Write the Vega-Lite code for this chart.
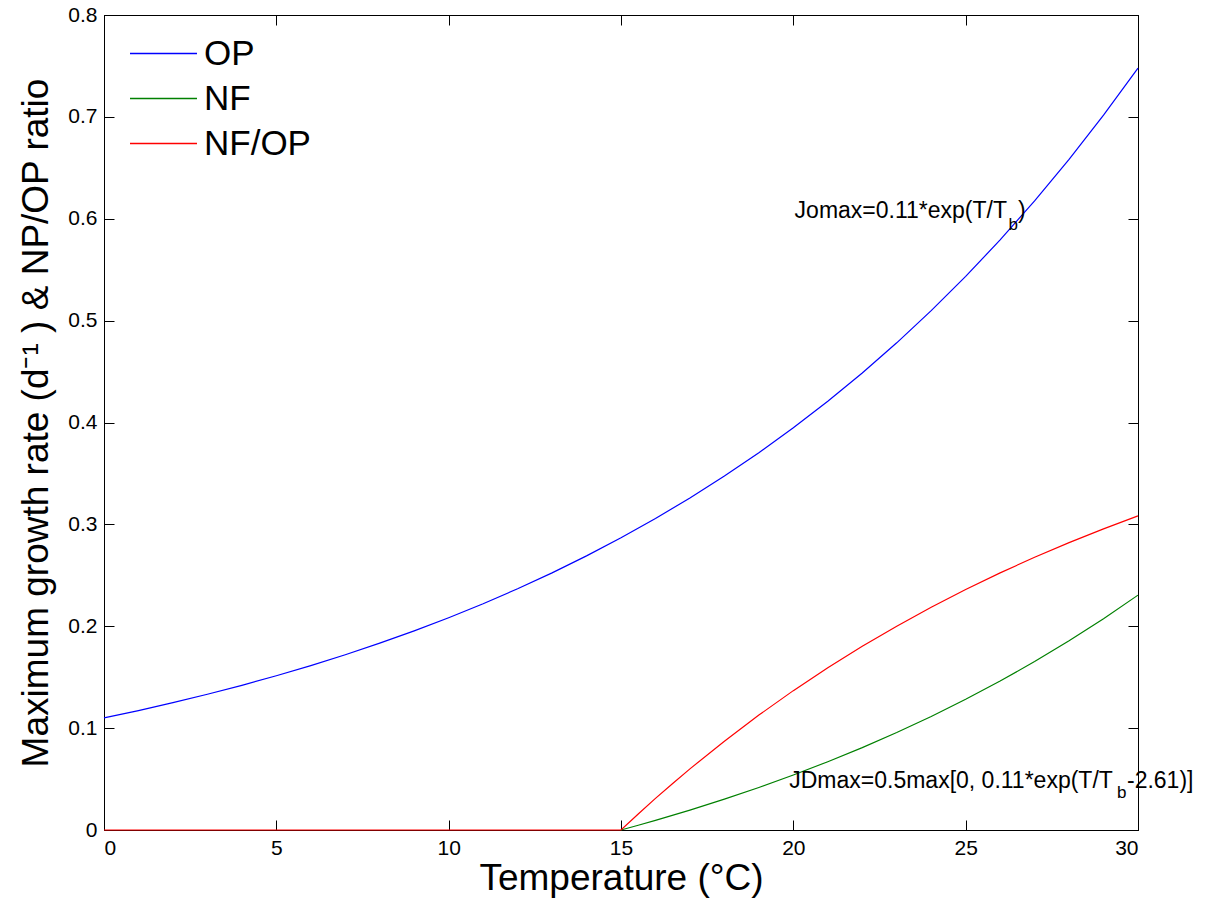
{
  "$schema": "https://vega.github.io/schema/vega-lite/v6.json",
  "autosize": "none",
  "width": 1034,
  "height": 815,
  "padding": {"left": 104, "top": 15, "right": 72, "bottom": 74},
  "background": "white",
  "config": {
    "view": {"stroke": "black", "strokeWidth": 1},
    "font": "Liberation Sans",
    "axis": {
      "grid": false,
      "domainColor": "black",
      "tickColor": "black",
      "labelColor": "black",
      "titleColor": "black",
      "labelFont": "Liberation Sans",
      "titleFont": "Liberation Sans",
      "labelFontSize": 21,
      "titleFontSize": 37,
      "titleFontWeight": "normal",
      "tickSize": -10,
      "tickWidth": 1
    }
  },
  "datasets": {
    "curves": [
      {"T": 0, "series": "OP", "value": 0.11},
      {"T": 1, "series": "OP", "value": 0.11726},
      {"T": 2, "series": "OP", "value": 0.125},
      {"T": 3, "series": "OP", "value": 0.13324},
      {"T": 4, "series": "OP", "value": 0.14203},
      {"T": 5, "series": "OP", "value": 0.15141},
      {"T": 6, "series": "OP", "value": 0.1614},
      {"T": 7, "series": "OP", "value": 0.17204},
      {"T": 8, "series": "OP", "value": 0.1834},
      {"T": 9, "series": "OP", "value": 0.1955},
      {"T": 10, "series": "OP", "value": 0.20839},
      {"T": 11, "series": "OP", "value": 0.22214},
      {"T": 12, "series": "OP", "value": 0.2368},
      {"T": 13, "series": "OP", "value": 0.25242},
      {"T": 14, "series": "OP", "value": 0.26908},
      {"T": 15, "series": "OP", "value": 0.28683},
      {"T": 16, "series": "OP", "value": 0.30576},
      {"T": 17, "series": "OP", "value": 0.32593},
      {"T": 18, "series": "OP", "value": 0.34744},
      {"T": 19, "series": "OP", "value": 0.37036},
      {"T": 20, "series": "OP", "value": 0.3948},
      {"T": 21, "series": "OP", "value": 0.42085},
      {"T": 22, "series": "OP", "value": 0.44861},
      {"T": 23, "series": "OP", "value": 0.47821},
      {"T": 24, "series": "OP", "value": 0.50977},
      {"T": 25, "series": "OP", "value": 0.5434},
      {"T": 26, "series": "OP", "value": 0.57925},
      {"T": 27, "series": "OP", "value": 0.61747},
      {"T": 28, "series": "OP", "value": 0.65821},
      {"T": 29, "series": "OP", "value": 0.70164},
      {"T": 30, "series": "OP", "value": 0.74793},
      {"T": 15, "series": "NF", "value": 0},
      {"T": 15.5, "series": "NF", "value": 0.00466},
      {"T": 16, "series": "NF", "value": 0.00947},
      {"T": 17, "series": "NF", "value": 0.01955},
      {"T": 18, "series": "NF", "value": 0.03031},
      {"T": 19, "series": "NF", "value": 0.04177},
      {"T": 20, "series": "NF", "value": 0.05399},
      {"T": 21, "series": "NF", "value": 0.06701},
      {"T": 22, "series": "NF", "value": 0.08089},
      {"T": 23, "series": "NF", "value": 0.09569},
      {"T": 24, "series": "NF", "value": 0.11147},
      {"T": 25, "series": "NF", "value": 0.12829},
      {"T": 26, "series": "NF", "value": 0.14621},
      {"T": 27, "series": "NF", "value": 0.16532},
      {"T": 28, "series": "NF", "value": 0.18569},
      {"T": 29, "series": "NF", "value": 0.20741},
      {"T": 30, "series": "NF", "value": 0.23055},
      {"T": 0, "series": "NF/OP", "value": 0},
      {"T": 15, "series": "NF/OP", "value": 0},
      {"T": 15.5, "series": "NF/OP", "value": 0.0157},
      {"T": 16, "series": "NF/OP", "value": 0.031},
      {"T": 16.5, "series": "NF/OP", "value": 0.0457},
      {"T": 17, "series": "NF/OP", "value": 0.06},
      {"T": 18, "series": "NF/OP", "value": 0.0872},
      {"T": 19, "series": "NF/OP", "value": 0.1128},
      {"T": 20, "series": "NF/OP", "value": 0.1368},
      {"T": 21, "series": "NF/OP", "value": 0.1592},
      {"T": 22, "series": "NF/OP", "value": 0.1803},
      {"T": 23, "series": "NF/OP", "value": 0.2001},
      {"T": 24, "series": "NF/OP", "value": 0.2187},
      {"T": 25, "series": "NF/OP", "value": 0.2361},
      {"T": 26, "series": "NF/OP", "value": 0.2524},
      {"T": 27, "series": "NF/OP", "value": 0.2677},
      {"T": 28, "series": "NF/OP", "value": 0.2821},
      {"T": 29, "series": "NF/OP", "value": 0.2956},
      {"T": 30, "series": "NF/OP", "value": 0.3083}
    ],
    "mainText": [
      {"T": 26.2, "value": 0.6007, "label": "Jomax=0.11*exp(T/T"},
      {"T": 29.27, "value": 0.0412, "label": "JDmax=0.5max[0, 0.11*exp(T/T"}
    ],
    "subText": [
      {"T": 26.24, "value": 0.5889, "label": "b"},
      {"T": 29.39, "value": 0.0314, "label": "b"}
    ],
    "tailText": [
      {"T": 26.52, "value": 0.6007, "label": ")"},
      {"T": 29.68, "value": 0.0412, "label": "-2.61)]"}
    ]
  },
  "layer": [
    {
      "data": {"name": "curves"},
      "mark": {"type": "line", "strokeWidth": 1.2, "interpolate": "linear"},
      "encoding": {
        "x": {"field": "T", "type": "quantitative",
              "scale": {"domain": [0, 30], "nice": false, "zero": false},
              "axis": {"values": [0, 5, 10, 15, 20, 25, 30], "title": "Temperature (°C)", "labelPadding": 17, "titlePadding": 2}},
        "y": {"field": "value", "type": "quantitative",
              "scale": {"domain": [0, 0.8], "nice": false},
              "axis": {"values": [0, 0.1, 0.2, 0.3, 0.4, 0.5, 0.6, 0.7, 0.8], "format": ".1~f", "title": "Maximum growth rate (d⁻¹ ) & NP/OP ratio", "labelPadding": 17, "titlePadding": 12}},
        "color": {"field": "series", "type": "nominal",
                  "scale": {"domain": ["OP", "NF", "NF/OP"], "range": ["#0000ff", "#008000", "#ff0000"]},
                  "legend": {"title": null, "orient": "none", "legendX": 42, "legendY": 21,
                             "symbolType": "M-2,0H2", "symbolSize": 1122, "symbolStrokeWidth": 1.5,
                             "labelFontSize": 35, "labelFont": "Liberation Sans", "labelColor": "black",
                             "rowPadding": 9, "labelOffset": 23}}
      }
    },
    {
      "data": {"name": "curves"},
      "mark": {"type": "line", "opacity": 0},
      "encoding": {
        "x": {"field": "T", "type": "quantitative", "axis": {"orient": "top", "values": [0, 5, 10, 15, 20, 25, 30], "labels": false, "title": null}},
        "y": {"field": "value", "type": "quantitative", "axis": {"orient": "right", "values": [0, 0.1, 0.2, 0.3, 0.4, 0.5, 0.6, 0.7, 0.8], "labels": false, "title": null}}
      }
    },
    {
      "data": {"name": "mainText"},
      "mark": {"type": "text", "align": "right", "baseline": "alphabetic", "fontSize": 23, "font": "Liberation Sans", "color": "black"},
      "encoding": {
        "x": {"field": "T", "type": "quantitative", "axis": null},
        "y": {"field": "value", "type": "quantitative", "axis": null},
        "text": {"field": "label"}
      }
    },
    {
      "data": {"name": "subText"},
      "mark": {"type": "text", "align": "left", "baseline": "alphabetic", "fontSize": 17, "font": "Liberation Sans", "color": "black"},
      "encoding": {
        "x": {"field": "T", "type": "quantitative", "axis": null},
        "y": {"field": "value", "type": "quantitative", "axis": null},
        "text": {"field": "label"}
      }
    },
    {
      "data": {"name": "tailText"},
      "mark": {"type": "text", "align": "left", "baseline": "alphabetic", "fontSize": 23, "font": "Liberation Sans", "color": "black"},
      "encoding": {
        "x": {"field": "T", "type": "quantitative", "axis": null},
        "y": {"field": "value", "type": "quantitative", "axis": null},
        "text": {"field": "label"}
      }
    }
  ],
  "resolve": {"axis": {"x": "independent", "y": "independent"}}
}
